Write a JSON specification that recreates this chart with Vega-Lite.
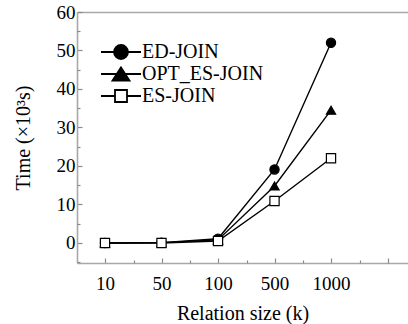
{
  "$schema": "https://vega.github.io/schema/vega-lite/v6.json",
  "width": 331,
  "height": 251,
  "autosize": {"type": "none"},
  "padding": {"left": 77, "top": 12, "right": 0, "bottom": 61},
  "background": "#ffffff",
  "config": {
    "font": "Liberation Serif, serif",
    "view": {"stroke": null},
    "axis": {
      "labelFont": "Liberation Serif, serif",
      "titleFont": "Liberation Serif, serif",
      "labelFontSize": 19,
      "titleFontSize": 20,
      "titleFontWeight": "normal",
      "labelColor": "#000000",
      "titleColor": "#000000",
      "domainColor": "#a8a8a8",
      "domainWidth": 1.6,
      "tickColor": "#8a8a8a",
      "tickWidth": 1.2,
      "grid": false
    },
    "legend": {
      "labelFont": "Liberation Serif, serif",
      "labelFontSize": 20,
      "labelColor": "#000000"
    }
  },
  "data": {
    "values": [
      {"size": 10, "method": "ED-JOIN", "time": 0},
      {"size": 50, "method": "ED-JOIN", "time": 0.1},
      {"size": 100, "method": "ED-JOIN", "time": 1.1},
      {"size": 500, "method": "ED-JOIN", "time": 19.1},
      {"size": 1000, "method": "ED-JOIN", "time": 52},
      {"size": 10, "method": "OPT_ES-JOIN", "time": 0},
      {"size": 50, "method": "OPT_ES-JOIN", "time": 0.1},
      {"size": 100, "method": "OPT_ES-JOIN", "time": 0.8},
      {"size": 500, "method": "OPT_ES-JOIN", "time": 14.8},
      {"size": 1000, "method": "OPT_ES-JOIN", "time": 34.5},
      {"size": 10, "method": "ES-JOIN", "time": 0},
      {"size": 50, "method": "ES-JOIN", "time": 0},
      {"size": 100, "method": "ES-JOIN", "time": 0.5},
      {"size": 500, "method": "ES-JOIN", "time": 10.9},
      {"size": 1000, "method": "ES-JOIN", "time": 22}
    ]
  },
  "resolve": {
    "scale": {"x": "independent", "y": "independent"},
    "axis": {"x": "independent", "y": "independent"}
  },
  "layer": [
    {
      "mark": {"type": "line", "color": "#000000", "strokeWidth": 1.4},
      "encoding": {
        "x": {
          "field": "size", "type": "ordinal",
          "scale": {"type": "point", "domain": [10, 50, 100, 500, 1000], "padding": 0.929, "align": 0.2667},
          "axis": {"orient": "bottom", "title": "Relation size (k)", "labelAngle": 0, "tickSize": -5, "labelPadding": 16, "titlePadding": 10}
        },
        "y": {
          "field": "time", "type": "quantitative",
          "scale": {"domain": [-5.2, 60], "nice": false, "zero": false},
          "axis": {
            "orient": "left",
            "title": "Time (×10³s)",
            "values": [0, 10, 20, 30, 40, 50, 60],
            "tickSize": -5,
            "labelPadding": 7,
            "titlePadding": 23
          }
        },
        "detail": {"field": "method", "type": "nominal"}
      }
    },
    {
      "mark": {"type": "point", "opacity": 1, "filled": true, "stroke": "#000000", "strokeWidth": 1.2, "size": 85},
      "encoding": {
        "x": {
          "field": "size", "type": "ordinal",
          "scale": {"type": "point", "domain": [10, 50, 100, 500, 1000], "padding": 0.929, "align": 0.2667},
          "axis": null
        },
        "y": {
          "field": "time", "type": "quantitative",
          "scale": {"domain": [-5.2, 60], "nice": false, "zero": false},
          "axis": null
        },
        "shape": {
          "condition": [
            {"test": "datum.method === 'ED-JOIN'", "value": "circle"},
            {"test": "datum.method === 'OPT_ES-JOIN'", "value": "triangle-up"}
          ],
          "value": "square"
        },
        "fill": {"condition": {"test": "datum.method === 'ES-JOIN'", "value": "#ffffff"}, "value": "#000000"}
      }
    },
    {
      "transform": [{"filter": "false"}],
      "mark": {"type": "point", "opacity": 1, "filled": false, "strokeWidth": 1.8},
      "encoding": {
        "x": {
          "field": "size", "type": "ordinal",
          "scale": {"type": "point", "domain": [10, 50, 100, 500, 1000], "padding": 0.929, "align": 0.2667},
          "axis": null
        },
        "y": {
          "field": "time", "type": "quantitative",
          "scale": {"domain": [-5.2, 60], "nice": false, "zero": false},
          "axis": null
        },
        "shape": {
          "field": "method", "type": "nominal",
          "scale": {
            "domain": ["ED-JOIN", "OPT_ES-JOIN", "ES-JOIN"],
            "range": [
              "M-2,0H2M0.7,0A0.7,0.7 0 1,1 -0.7,0A0.7,0.7 0 1,1 0.7,0Z",
              "M-2,0H2M0,-0.65L0.85,0.65L-0.85,0.65Z",
              "M-2,0H-0.6M0.6,0H2M-0.6,-0.6H0.6V0.6H-0.6Z"
            ]
          },
          "legend": {
            "title": null, "orient": "none", "legendX": 33, "legendY": 29,
            "symbolSize": 400, "symbolStrokeWidth": 1.8,
            "labelOffset": 10, "rowPadding": 0
          }
        },
        "fill": {
          "field": "method", "type": "nominal",
          "scale": {"domain": ["ED-JOIN", "OPT_ES-JOIN", "ES-JOIN"], "range": ["#000000", "#000000", "#ffffff"]},
          "legend": {
            "title": null, "orient": "none", "legendX": 33, "legendY": 29,
            "symbolSize": 400, "symbolStrokeWidth": 1.8,
            "labelOffset": 10, "rowPadding": 0
          }
        },
        "stroke": {
          "field": "method", "type": "nominal",
          "scale": {"domain": ["ED-JOIN", "OPT_ES-JOIN", "ES-JOIN"], "range": ["#000000", "#000000", "#000000"]},
          "legend": {
            "title": null, "orient": "none", "legendX": 33, "legendY": 29,
            "symbolSize": 400, "symbolStrokeWidth": 1.8,
            "labelOffset": 10, "rowPadding": 0
          }
        }
      }
    },
    {
      "mark": {"type": "rule", "opacity": 0},
      "encoding": {
        "x": {
          "datum": 1, "type": "quantitative",
          "scale": {"domain": [0.5, 6.358], "nice": false, "zero": false},
          "axis": {"orient": "top", "labels": false, "ticks": false, "title": null}
        }
      }
    },
    {
      "mark": {"type": "rule", "opacity": 0},
      "encoding": {
        "x": {
          "datum": 1, "type": "quantitative",
          "scale": {"domain": [0.5, 6.358], "nice": false, "zero": false},
          "axis": {
            "orient": "bottom", "labels": false, "domain": false, "title": null,
            "values": [1.5, 2.5, 3.5, 4.5, 5.5, 6],
            "tickSize": {"condition": {"test": "datum.value === 6", "value": -5}, "value": -3}
          }
        }
      }
    },
    {
      "mark": {"type": "rule", "opacity": 0},
      "encoding": {
        "y": {
          "datum": 5, "type": "quantitative",
          "scale": {"domain": [-5.2, 60], "nice": false, "zero": false},
          "axis": {
            "orient": "left", "labels": false, "domain": false, "title": null,
            "values": [-5, 5, 15, 25, 35, 45, 55],
            "tickSize": -3
          }
        }
      }
    }
  ]
}
